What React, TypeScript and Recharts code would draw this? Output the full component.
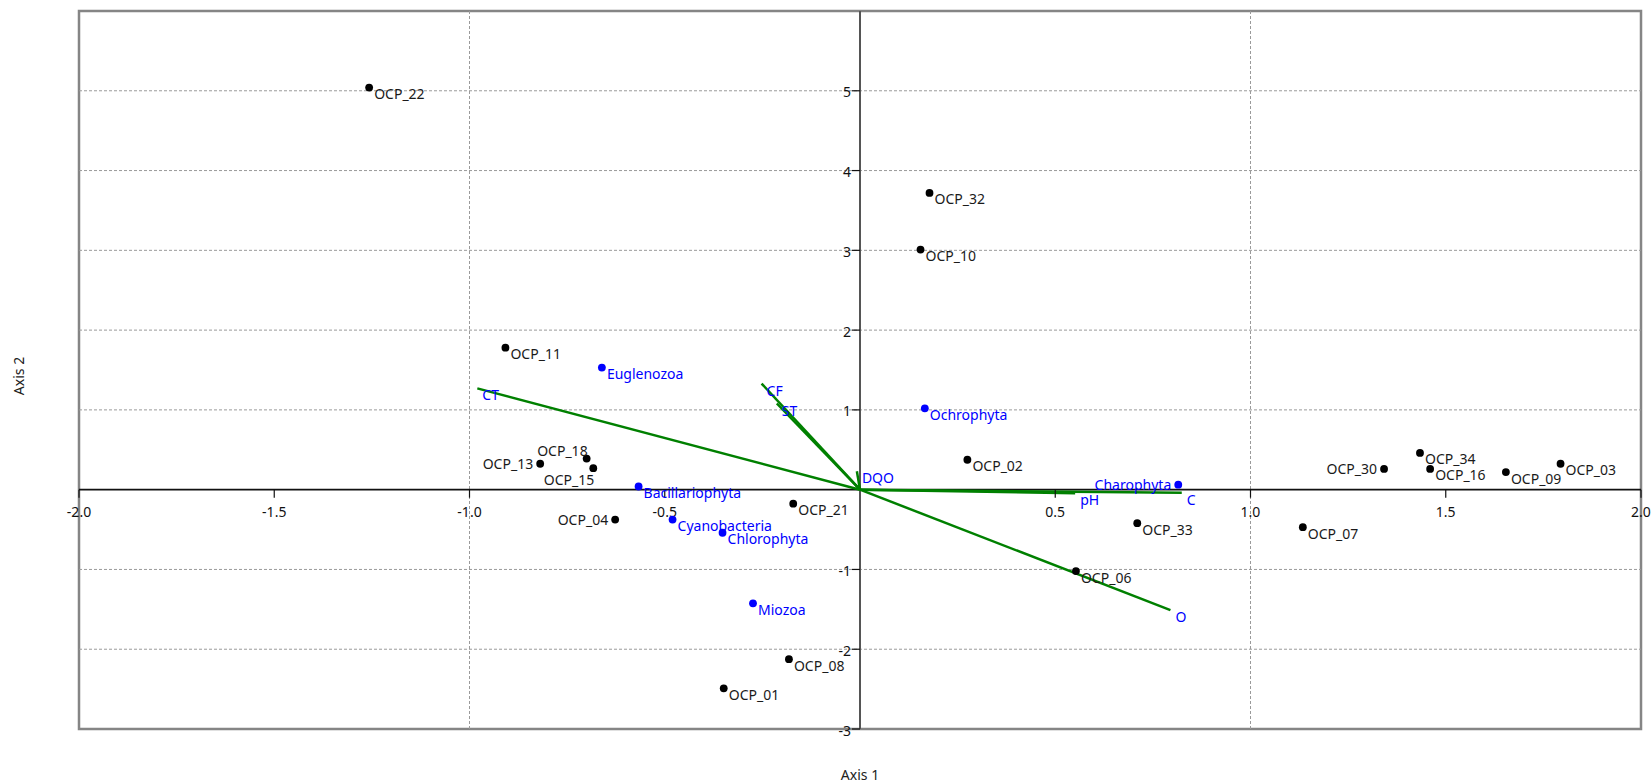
import React from "react";
import {
  ScatterChart,
  Scatter,
  XAxis,
  YAxis,
  ReferenceLine,
  ReferenceArea,
  ReferenceDot,
} from "recharts";

// sampling sites (black)
const siteNames = [
  "OCP_22", "OCP_32", "OCP_10", "OCP_11", "OCP_18", "OCP_13", "OCP_15",
  "OCP_04", "OCP_21", "OCP_08", "OCP_01", "OCP_02", "OCP_33", "OCP_06",
  "OCP_07", "OCP_30", "OCP_34", "OCP_16", "OCP_09", "OCP_03",
];
const siteX = [
  -1.257, 0.178, 0.155, -0.908, -0.7, -0.819, -0.683,
  -0.627, -0.171, -0.182, -0.349, 0.275, 0.71, 0.553,
  1.134, 1.342, 1.434, 1.46, 1.654, 1.794,
];
const siteY = [
  5.04, 3.72, 3.01, 1.78, 0.39, 0.325, 0.27,
  -0.375, -0.175, -2.125, -2.49, 0.375, -0.42, -1.02,
  -0.47, 0.26, 0.46, 0.26, 0.22, 0.325,
];

// taxa (blue)
const taxaNames = [
  "Euglenozoa", "Ochrophyta", "Bacillariophyta", "Cyanobacteria",
  "Chlorophyta", "Miozoa", "Charophyta",
];
const taxaX = [-0.661, 0.166, -0.567, -0.48, -0.352, -0.274, 0.815];
const taxaY = [1.53, 1.02, 0.04, -0.375, -0.54, -1.425, 0.062];

// environmental vectors (green)
const envNames = ["CT", "CF", "ST", "DQO", "pH", "C", "O"];
const envX = [-0.98, -0.252, -0.213, -0.008, 0.551, 0.824, 0.795];
const envY = [1.27, 1.33, 1.08, 0.23, -0.045, -0.04, -1.51];

const xTicks = [-2, -1.5, -1, -0.5, 0.5, 1, 1.5, 2];
const yTicks = [-3, -2, -1, 1, 2, 3, 4, 5];
const xGrid = [-1, 1];
const yGrid = [-2, -1, 1, 2, 3, 4, 5];

const sites = siteNames.map((name, i) => ({ name, x: siteX[i], y: siteY[i] }));
const taxa = taxaNames.map((name, i) => ({ name, x: taxaX[i], y: taxaY[i] }));
const env = envNames.map((name, i) => ({ name, x: envX[i], y: envY[i] }));

// where a label goes, for the few that are not right-below their dot
const labelSide: Record<string, string> = {
  OCP_13: "left",
  OCP_04: "left",
  OCP_30: "left",
  Charophyta: "left",
  OCP_18: "upLeft",
  OCP_15: "downLeft",
};

const FONT = "'Noto Sans', 'Open Sans', sans-serif";
const BLUE = "#0000ff";
const GREEN = "#008000";

function makePoint(color: string, textColor: string) {
  return (props: any) => {
    const { cx, cy, payload } = props;
    const side = labelSide[payload.name] || "right";
    let tx = cx + 5;
    let ty = cy + 6;
    let anchor = "start";
    if (side === "left") {
      tx = cx - 7;
      ty = cy;
      anchor = "end";
    } else if (side === "upLeft") {
      tx = cx + 1;
      ty = cy - 8;
      anchor = "end";
    } else if (side === "downLeft") {
      tx = cx + 1;
      ty = cy + 11;
      anchor = "end";
    }
    return (
      <g>
        <circle cx={cx} cy={cy} r={3.9} fill={color} />
        <text
          x={tx}
          y={ty}
          textAnchor={anchor}
          dominantBaseline="central"
          fontSize={14}
          fill={textColor}
        >
          {payload.name}
        </text>
      </g>
    );
  };
}

const EnvLabel = (props: any) => {
  const { cx, cy, payload } = props;
  return (
    <text
      x={cx + 5}
      y={cy + 6.5}
      dominantBaseline="central"
      fontSize={14}
      fill={BLUE}
    >
      {payload.name}
    </text>
  );
};

const fmtX = (v: number) => v.toFixed(1);

export default function App() {
  return (
    <div style={{ position: "absolute", left: 0, top: 0, fontFamily: FONT }}>
      <ScatterChart
        width={1652}
        height={783}
        margin={{ top: 11, right: 11, left: 0, bottom: 0 }}
      >
        <XAxis
          type="number"
          dataKey="x"
          domain={[-2, 2]}
          allowDataOverflow
          height={54}
          tick={false}
          tickLine={false}
          axisLine={false}
          label={{
            value: "Axis 1",
            position: "insideBottom",
            offset: 3,
            fontSize: 14,
            fill: "#222",
          }}
        />
        <YAxis
          type="number"
          dataKey="y"
          domain={[-3, 6]}
          allowDataOverflow
          width={79}
          tick={false}
          tickLine={false}
          axisLine={false}
          label={{
            value: "Axis 2",
            angle: -90,
            position: "center",
            dx: -20,
            dy: 6,
            fontSize: 14,
            fill: "#222",
          }}
        />

        {yGrid.map((v) => (
          <ReferenceLine
            key={"gy" + v}
            y={v}
            stroke="#9a9a9a"
            strokeDasharray="3 2"
            strokeWidth={1}
          />
        ))}
        {xGrid.map((v) => (
          <ReferenceLine
            key={"gx" + v}
            x={v}
            stroke="#9a9a9a"
            strokeDasharray="3 2"
            strokeWidth={1}
          />
        ))}

        <ReferenceArea
          x1={-2}
          x2={2}
          y1={-3}
          y2={6}
          fill="none"
          stroke="#858585"
          strokeWidth={2.5}
          ifOverflow="visible"
        />

        <ReferenceLine y={0} stroke="#111" strokeWidth={1.6} />
        <ReferenceLine x={0} stroke="#555" strokeWidth={2} />

        {xTicks.map((v) => (
          <ReferenceDot
            key={"tx" + v}
            x={v}
            y={0}
            r={0}
            ifOverflow="visible"
            shape={(p: any) => (
              <g>
                <line x1={p.cx} y1={p.cy} x2={p.cx} y2={p.cy + 8} stroke="#111" strokeWidth={1.2} />
                <text
                  x={p.cx}
                  y={p.cy + 22}
                  textAnchor="middle"
                  dominantBaseline="central"
                  fontSize={14}
                  fill="#111"
                >
                  {fmtX(v)}
                </text>
              </g>
            )}
          />
        ))}
        {yTicks.map((v) => (
          <ReferenceDot
            key={"ty" + v}
            x={0}
            y={v}
            r={0}
            ifOverflow="visible"
            shape={(p: any) => (
              <g>
                <line x1={p.cx - 8} y1={p.cy} x2={p.cx} y2={p.cy} stroke="#111" strokeWidth={1.2} />
                <text
                  x={p.cx - 9}
                  y={p.cy + 1}
                  textAnchor="end"
                  dominantBaseline="central"
                  fontSize={14}
                  fill="#111"
                >
                  {v}
                </text>
              </g>
            )}
          />
        ))}

        {env.map((e) => (
          <ReferenceLine
            key={"env" + e.name}
            segment={[
              { x: 0, y: 0 },
              { x: e.x, y: e.y },
            ]}
            stroke={GREEN}
            strokeWidth={2.5}
            ifOverflow="visible"
          />
        ))}

        <Scatter data={env} shape={EnvLabel} isAnimationActive={false} />
        <Scatter data={taxa} shape={makePoint(BLUE, BLUE)} isAnimationActive={false} />
        <Scatter data={sites} shape={makePoint("#000", "#1a1a1a")} isAnimationActive={false} />
      </ScatterChart>
    </div>
  );
}
